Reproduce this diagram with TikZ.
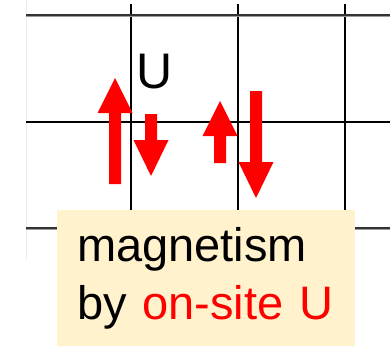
\documentclass[tikz,border=0pt]{standalone}
\usepackage{fontspec}
\setmainfont{Liberation Sans}
\usepackage{tikz}
\usetikzlibrary{positioning}
\definecolor{spinred}{HTML}{FF0000}
\definecolor{notefill}{HTML}{FFF2CC}
\definecolor{gridgray}{HTML}{9A9A9A}
\tikzset{
  gridline/.style={draw=black,line width=1.6pt},
  edgeline/.style={draw=gridgray,line width=3pt},
  edgecore/.style={draw=black!80,line width=1.2pt},
  spin/.style={fill=spinred},
  note/.style={fill=notefill,align=left,inner xsep=20pt,inner ysep=0pt,minimum width=298pt,minimum height=136pt,text width=258pt,font=\fontsize{47}{58}\selectfont},
  ulabel/.style={inner sep=0pt,font=\fontsize{50}{60}\selectfont},
}
\newcommand\spinarrow[4]{%
  \fill[spin] (#1-6,#2) -- (#1-6,#3) -- (#1-17.5,#3) -- (#1,#4) -- (#1+17.5,#3) -- (#1+6,#3) -- (#1+6,#2) -- cycle;}
\begin{document}
\begin{tikzpicture}[x=1pt,y=-1pt]
  \useasboundingbox (0,0) rectangle (390,348);
  \draw[black!7,line width=0.8pt] (26,0) -- (26,260);
  \foreach \gx in {131,238,345}
    \draw[gridline] (\gx,4) -- (\gx,228);
  \draw[gridline] (26,122) -- (390,122);
  \foreach \gy in {15,228} {
    \draw[edgeline] (26,\gy) -- (390,\gy);
    \draw[edgecore] (26,\gy) -- (390,\gy);
  }
  \spinarrow{115}{184}{113}{78}
  \spinarrow{151}{114}{140}{176}
  \spinarrow{220}{163}{136}{101}
  \spinarrow{256}{91}{162}{198}
  \node[ulabel,anchor=base west] (u) at (136,88) {U};
  \node[note,anchor=north west] (magnet) at (57,210) {magnetism\\by \textcolor{spinred}{on-site U}};
\end{tikzpicture}
\end{document}
